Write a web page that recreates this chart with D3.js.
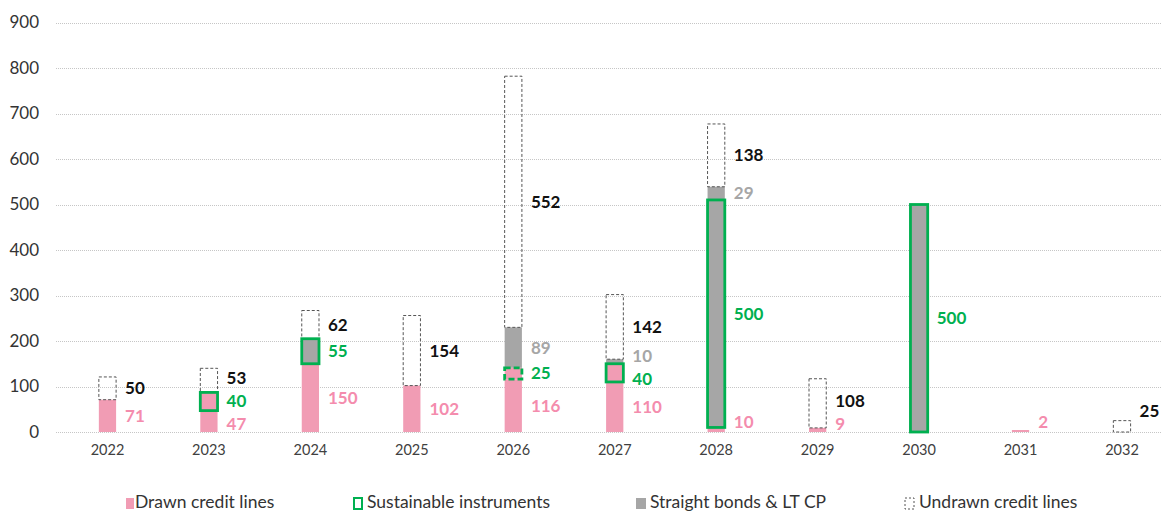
<!DOCTYPE html>
<html>
<head>
<meta charset="utf-8">
<script src="https://cdn.jsdelivr.net/npm/d3@7"></script>
<style>
  body { margin: 0; background: #fff; }
  svg text { font-family: Lato, "Open Sans", sans-serif; }
</style>
</head>
<body>
<div id="chart"></div>
<script>
// maturity profile, amounts per year
const years = ["2022", "2023", "2024", "2025", "2026", "2027", "2028", "2029", "2030", "2031", "2032"]
const drawn = [71, 47, 150, 102, 116, 110, 10, 9, 0, 2, 0]
const sustainable = [0, 40, 55, 0, 25, 40, 500, 0, 500, 0, 0]
// which kind of instrument the sustainable part is (credit line or bond)
const sustainableKind = ["", "drawn", "bond", "", "drawn", "drawn", "bond", "", "bond", "", ""]
const sustainablePlanned = ["2026"]
const bonds = [0, 0, 0, 0, 89, 10, 29, 0, 0, 0, 0]
const undrawn = [50, 53, 62, 154, 552, 142, 138, 108, 0, 0, 25]
const yTicks = [0, 100, 200, 300, 400, 500, 600, 700, 800, 900]
const legendLabels = ["Drawn credit lines", "Sustainable instruments", "Straight bonds & LT CP", "Undrawn credit lines"]

const W = 1162, H = 513
const pink = "#f19cb4", pinkText = "#f48cad", green = "#00b050", grey = "#a6a6a6"

const svg = d3.select("#chart").append("svg").attr("width", W).attr("height", H)

const x = d3.scaleBand().domain(years).range([56.75, 1172.7]).paddingInner(0.83).paddingOuter(0.415)
const y = d3.scaleLinear().domain([0, 900]).range([432, 22.5])

// gridlines
svg.append("g")
  .selectAll("line")
  .data(yTicks)
  .join("line")
  .attr("x1", 56).attr("x2", W)
  .attr("y1", (d) => Math.round(y(d)) + 0.5).attr("y2", (d) => Math.round(y(d)) + 0.5)
  .attr("stroke", "#c6c6c6")
  .attr("stroke-dasharray", "1,1")

// y axis
const gy = svg.append("g").attr("transform", "translate(56,0)")
  .call(d3.axisLeft(y).tickValues(yTicks).tickSize(0).tickPadding(17))
gy.select(".domain").remove()
gy.selectAll("text").attr("font-size", 17).attr("fill", "#333").style("font-family", "Lato")

// x axis
const gx = svg.append("g").attr("transform", "translate(0,432)")
  .call(d3.axisBottom(x).tickSize(0).tickPadding(13))
gx.select(".domain").remove()
gx.selectAll("text").attr("font-size", 14.5).attr("fill", "#404040").style("font-family", "Lato")

// stacked data
const rows = years.map((yr, i) => ({
  year: yr, drawn: drawn[i], sustainable: sustainable[i], bonds: bonds[i], undrawn: undrawn[i]
}))
const keys = ["drawn", "sustainable", "bonds", "undrawn"]
const series = d3.stack().keys(keys)(rows)
const byKey = {}
series.forEach((s) => (byKey[s.key] = s))

const bw = x.bandwidth()
const rectAttrs = (sel) => sel
  .attr("x", (d) => x(d.data.year))
  .attr("width", bw)
  .attr("y", (d) => Math.min(y(d[1]), y(d[0]) - 2))
  .attr("height", (d) => Math.max(2, y(d[0]) - y(d[1])))

// drawn credit lines
svg.append("g").selectAll("rect")
  .data(byKey.drawn.filter((d) => d.data.drawn > 0))
  .join("rect").call(rectAttrs).attr("fill", pink)

// straight bonds
svg.append("g").selectAll("rect")
  .data(byKey.bonds.filter((d) => d.data.bonds > 0))
  .join("rect").call(rectAttrs).attr("fill", grey)

// undrawn credit lines
svg.append("g").selectAll("rect")
  .data(byKey.undrawn.filter((d) => d.data.undrawn > 0))
  .join("rect").call(rectAttrs)
  .attr("fill", "none")
  .attr("stroke", "#555")
  .attr("stroke-width", 1)
  .attr("stroke-dasharray", "3,2")

// sustainable instruments on top, fill depends on instrument kind
svg.append("g").selectAll("rect")
  .data(byKey.sustainable.filter((d) => d.data.sustainable > 0))
  .join("rect").call(rectAttrs)
  .attr("fill", (d) => sustainableKind[years.indexOf(d.data.year)] === "bond" ? grey : pink)
  .attr("stroke", green)
  .attr("stroke-width", 2.8)
  .attr("stroke-dasharray", (d) => sustainablePlanned.includes(d.data.year) ? "6,3" : null)

// value labels
const labelColor = { drawn: pinkText, sustainable: green, bonds: grey, undrawn: "#111" }
const labels = []
years.forEach((yr, i) => {
  const col = []
  keys.forEach((k) => {
    const d = byKey[k][i]
    const v = d.data[k]
    if (v <= 0) return
    const y0 = y(d[0]), y1 = y(d[1])
    const h = y0 - y1
    let ly = (y0 + y1) / 2
    // tiny bottom segments: put label just above them
    if (col.length === 0 && h < 20) ly = (h > 8 ? y1 : y0) - 10
    col.push({ year: yr, key: k, value: v, y: ly })
  })
  // simple relaxation so labels of small segments do not overlap
  for (let it = 0; it < 20; it++) {
    for (let j = 1; j < col.length; j++) {
      const gap = col[j - 1].y - col[j].y
      if (gap < 23) {
        const push = (23 - gap) / 2
        col[j - 1].y += push
        col[j].y -= push
      }
    }
  }
  labels.push(...col)
})

svg.append("g").selectAll("text")
  .data(labels)
  .join("text")
  .attr("x", (d) => x(d.year) + bw + 9)
  .attr("y", (d) => d.y)
  .attr("dy", "0.35em")
  .attr("font-size", 17)
  .attr("font-weight", "bold")
  .attr("fill", (d) => labelColor[d.key])
  .text((d) => d.value)

// legend
const legendX = [126, 353, 636, 905]
const lg = svg.append("g").attr("transform", "translate(0,508)")
legendLabels.forEach((t, i) => {
  const g = lg.append("g").attr("transform", `translate(${legendX[i]},0)`)
  const sq = g.append("rect").attr("x", 0).attr("y", -10).attr("width", 8).attr("height", 11)
  if (i === 0) sq.attr("fill", pink)
  if (i === 1) sq.attr("fill", "#fff").attr("stroke", green).attr("stroke-width", 2).attr("x", 1).attr("width", 8)
  if (i === 2) sq.attr("fill", grey).attr("width", 10)
  if (i === 3) sq.attr("fill", "none").attr("stroke", "#555").attr("stroke-dasharray", "2,2").attr("width", 9)
  g.append("text").attr("x", i === 1 ? 14 : (i === 0 ? 9 : 14))
    .attr("font-size", 17.5).attr("fill", "#333").text(t)
})
</script>
</body>
</html>
